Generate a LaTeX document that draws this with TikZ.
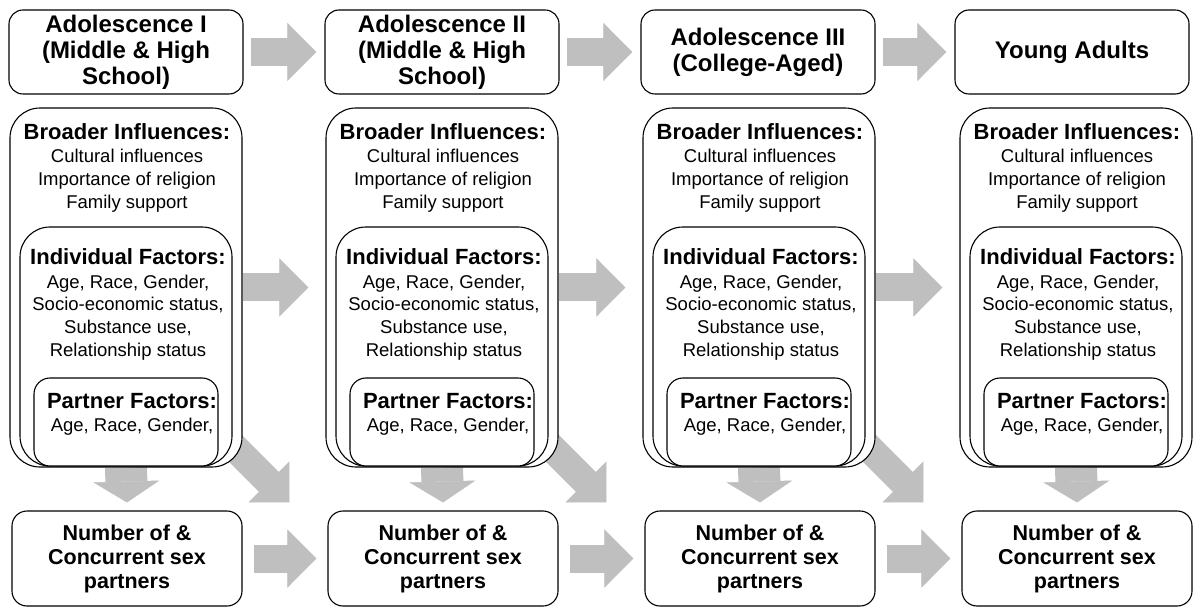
\documentclass[tikz,border=0pt]{standalone}
\usepackage{fontspec}
\setmainfont{Liberation Sans}
\usetikzlibrary{positioning,arrows.meta,calc,backgrounds}

\tikzset{
  frame/.style={draw, line width=1.1pt, fill=white},
  stagebox/.style={frame, rounded corners=14pt, minimum width=234pt, minimum height=84pt,
                   inner sep=0pt, align=center, font=\fontsize{24}{26}\selectfont\bfseries},
  outerbox/.style={frame, rounded corners=30pt, minimum width=232pt, minimum height=359pt},
  indivbox/.style={frame, rounded corners=30pt, minimum width=212pt, minimum height=239pt},
  partnerbox/.style={frame, rounded corners=16pt, minimum width=184pt, minimum height=88pt},
  countbox/.style={frame, rounded corners=15pt, minimum width=230pt, minimum height=95pt,
                   inner sep=0pt, align=center, font=\fontsize{21.5}{24}\selectfont\bfseries},
  headtext/.style={inner sep=0pt, anchor=base, font=\fontsize{22}{24}\selectfont\bfseries},
  bodytext/.style={inner sep=0pt, anchor=north, align=center, font=\fontsize{18.5}{22.8}\selectfont},
  fatarrow/.style={black!25, line width=28pt, -{Triangle[length=29pt, width=58pt, line width=0.5pt]}},
  downarrow/.style={black!25, line width=42pt, -{Triangle[length=21pt, width=66pt, line width=0.5pt]}}
}

\begin{document}
\begin{tikzpicture}[x=1pt, y=-1pt]
  \useasboundingbox (0,0) rectangle (1193,609);
  % one column per stage
  \foreach \i/\cx/\tx/\stagename in {1/126/126/{Adolescence I\\(Middle \& High\\School)},
                                      2/442/442/{Adolescence II\\(Middle \& High\\School)},
                                      3/759/758/{Adolescence III\\(College-Aged)},
                                      4/1076/1072/{Young Adults}} {
    \node[stagebox] (top\i) at (\tx,52) {\stagename};
    \node[outerbox] (outer\i) at (\cx,287.5) {};
    \node[indivbox] (indiv\i) at (\cx,346.5) {};
    \node[partnerbox] (partner\i) at (\cx,422) {};
    \node[countbox] (count\i) at (\cx+1,558.5) {Number of \&\\Concurrent sex\\partners};
    \node[headtext] (bhead\i) at (\cx+1,140) {Broader Influences:};
    \node[bodytext, below=8.5pt of bhead\i] (btext\i) {Cultural influences\\Importance of religion\\Family support};
    \node[headtext] (ihead\i) at (\cx+2,265) {Individual Factors:};
    \node[bodytext, below=9pt of ihead\i] (itext\i) {Age, Race, Gender,\\Socio-economic status,\\Substance use,\\Relationship status};
    \node[headtext] (phead\i) at (\cx+6,408) {Partner Factors:};
    \node[bodytext, below=9.5pt of phead\i] (ptext\i) {Age, Race, Gender,};
  }
  % gray arrows behind the boxes
  \begin{scope}[on background layer]
    \foreach \i/\j in {1/2,2/3,3/4} {
      \draw[fatarrow] ($(top\i.east)+(7,0)$) -- ($(top\j.west)+(-8,0)$);
      \draw[fatarrow] (outer\i.east) -- ($(outer\j.west)+(-17,0)$);
      \draw[fatarrow] ($(count\i.east)+(11,0)$) -- ($(count\j.west)+(-11,0)$);
      \coordinate (tip\i) at ($(count\j.north west)+(-38,-8)$);
      \draw[fatarrow] ($(tip\i)+(-85,-85)$) -- (tip\i);
    }
    \foreach \i in {1,...,4}
      \draw[downarrow] (outer\i.south) -- ($(count\i.north)+(0,-8)$);
  \end{scope}
\end{tikzpicture}
\end{document}
